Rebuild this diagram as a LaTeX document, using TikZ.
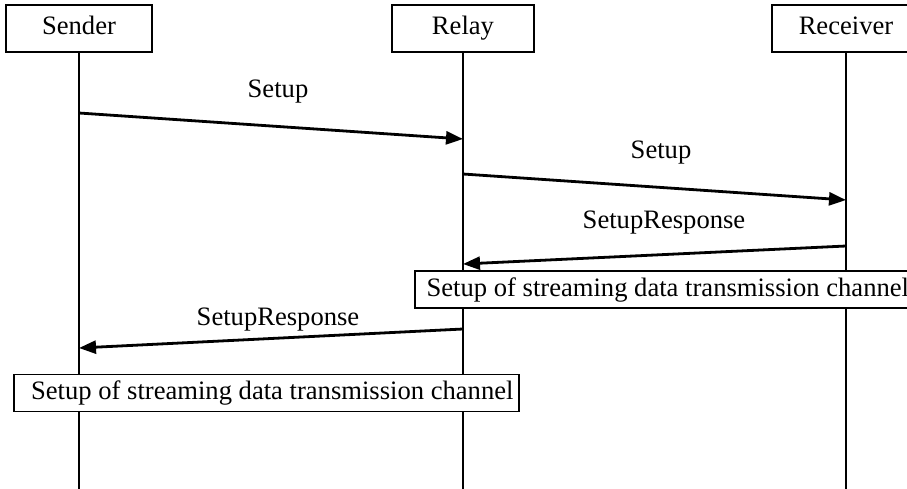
\documentclass[tikz,border=0pt]{standalone}
\usepackage{fontspec}
\setmainfont{Liberation Serif}
\usetikzlibrary{arrows.meta}
\begin{document}
\begin{tikzpicture}[x=1pt,y=-1pt,
  every node/.style={font=\fontsize{26.6}{30}\selectfont},
  actor/.style={draw,line width=1.6pt,minimum height=47pt,inner sep=0pt,text height=18pt,text depth=6pt},
  lifeline/.style={line width=1.6pt},
  msg/.style={line width=2.8pt,-{Triangle[length=17pt,width=13pt]}},
  msglabel/.style={inner sep=0pt},
  phase/.style={draw,line width=1.6pt,minimum height=37pt,inner sep=0pt,anchor=west}]
  \useasboundingbox (0,0) rectangle (907,488);
  \clip (0,0) rectangle (907,488);

  % participants
  \node[actor,minimum width=146pt] (sender) at (79,28.5) {Sender};
  \node[actor,minimum width=142pt] (relay) at (463,28.5) {Relay};
  \node[actor,minimum width=148pt] (receiver) at (846,28.5) {Receiver};

  % lifelines
  \coordinate (bottom) at (0,490);
  \draw[lifeline] (sender.south) -- (sender.south |- bottom);
  \draw[lifeline] (relay.south) -- (relay.south |- bottom);
  \draw[lifeline] (receiver.south) -- (receiver.south |- bottom);

  % message end points on the lifelines
  \coordinate (m1a) at (sender.south |- 0,113);
  \coordinate (m1b) at (relay.south |- 0,139);
  \coordinate (m2a) at (relay.south |- 0,174);
  \coordinate (m2b) at (receiver.south |- 0,200);
  \coordinate (m3a) at (receiver.south |- 0,246);
  \coordinate (m3b) at (relay.south |- 0,264);
  \coordinate (m4a) at (relay.south |- 0,329);
  \coordinate (m4b) at (sender.south |- 0,348);

  % messages
  \draw[msg] (m1a) -- (m1b);
  \node[msglabel] (l1) at (278,92) {Setup};
  \draw[msg] (m2a) -- (m2b);
  \node[msglabel] (l2) at (661,153) {Setup};
  \draw[msg] (m3a) -- (m3b);
  \node[msglabel] (l3) at (664,223) {SetupResponse};
  \draw[msg] (m4a) -- (m4b);
  \node[msglabel] (l4) at (278,320) {SetupResponse};

  % channel setup phases
  \node[phase,fill=white,minimum width=506pt] (ch1) at (414,289.5) {Setup of streaming data transmission channel};
  \node[phase,fill=white,minimum width=505pt] (ch2) at (13,393) {\hspace{12pt}Setup of streaming data transmission channel};
\end{tikzpicture}
\end{document}
